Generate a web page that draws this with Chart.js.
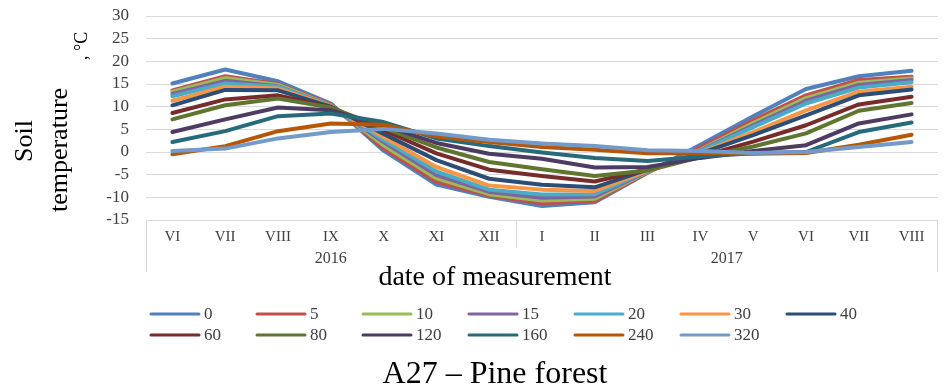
<!DOCTYPE html>
<html>
<head>
<meta charset="utf-8">
<script src="https://cdn.jsdelivr.net/npm/chart.js@4.4.0/dist/chart.umd.min.js"></script>
<style>
  html, body { margin: 0; padding: 0; background: #fff; }
  #wrap { width: 950px; height: 389px; }
</style>
</head>
<body>
<div id="wrap"><canvas id="myChart"></canvas></div>
<script>
// months of measurement, grouped by year
const months = ['VI', 'VII', 'VIII', 'IX', 'X', 'XI', 'XII', 'I', 'II', 'III', 'IV', 'V', 'VI', 'VII', 'VIII']
const years = ['2016', '2017']
const yearMonths = [7, 8]

// depth (cm) of each series
const depths = ['0', '5', '10', '15', '20', '30', '40', '60', '80', '120', '160', '240', '320']
const colors = ['#4F81BD', '#C0504D', '#9BBB59', '#8064A2', '#4BACC6', '#F79646', '#2C4D75',
                '#772C2A', '#5F7530', '#4D3B62', '#276A7C', '#B65708', '#729ACA']

// soil temperature, °C
const d0   = [15.1, 18.2, 15.6, 10.7, 0.3, -7.2, -9.9, -11.9, -11.1, -4.6, 1.6, 7.9, 13.9, 16.7, 17.9]
const d5   = [13.6, 16.7, 15.0, 10.5, 0.8, -6.6, -9.6, -11.3, -10.8, -4.5, 1.0, 7.0, 12.5, 15.9, 16.6]
const d10  = [13.3, 16.3, 14.8, 10.3, 1.5, -5.8, -9.3, -10.7, -10.3, -4.4, 0.5, 6.4, 11.9, 15.3, 16.2]
const d15  = [12.8, 15.7, 14.5, 10.2, 2.2, -5.1, -8.8, -10.1, -9.8, -4.3, 0.3, 5.9, 11.3, 14.8, 15.9]
const d20  = [12.3, 15.1, 14.4, 10.1, 2.7, -4.3, -8.3, -9.4, -9.3, -4.2, 0.2, 5.5, 10.7, 14.2, 15.4]
const d30  = [11.3, 14.4, 14.0, 10.1, 3.3, -3.3, -7.4, -8.3, -8.6, -4.1, -0.2, 4.4, 9.2, 13.3, 14.4]
const d40  = [10.3, 13.7, 13.6, 10.0, 4.0, -1.8, -5.9, -7.2, -7.8, -3.9, -0.3, 3.7, 8.1, 12.5, 13.8]
const d60  = [8.6, 11.6, 12.5, 9.9, 4.8, -0.3, -3.9, -5.3, -6.5, -3.8, -1.0, 2.3, 5.9, 10.5, 12.2]
const d80  = [7.2, 10.3, 11.8, 9.8, 5.3, 1.0, -2.2, -3.8, -5.3, -4.1, -1.1, 1.2, 4.1, 9.1, 10.8]
const d120 = [4.4, 7.2, 9.8, 9.2, 5.8, 2.0, -0.4, -1.5, -3.4, -3.3, -1.3, 0.2, 1.5, 6.3, 8.3]
const d160 = [2.2, 4.6, 7.9, 8.5, 6.6, 3.0, 1.3, -0.1, -1.3, -2.0, -1.0, -0.3, 0.0, 4.4, 6.5]
const d240 = [-0.5, 1.3, 4.6, 6.3, 6.0, 3.4, 2.2, 1.1, 0.5, -0.3, -0.2, -0.4, -0.2, 1.6, 3.8]
const d320 = [0.2, 0.75, 3.0, 4.4, 5.1, 4.1, 2.7, 1.9, 1.3, 0.4, 0.2, -0.2, 0.0, 1.1, 2.2]
const series = [d0, d5, d10, d15, d20, d30, d40, d60, d80, d120, d160, d240, d320]

const yTicks = [-15, -10, -5, 0, 5, 10, 15, 20, 25, 30]

const serif = "'Liberation Serif', 'Times New Roman', serif"
Chart.defaults.font.family = serif

const datasets = series.map((data, i) => ({
  label: depths[i],
  data: data,
  borderColor: colors[i],
  backgroundColor: colors[i],
  borderWidth: 4,
  pointRadius: 0,
  tension: 0,
  borderJoinStyle: 'round',
  borderCapStyle: 'round',
  order: series.length - i
}))

// year groups under the months, y-axis title and the legend grid
const extras = {
  id: 'extras',
  afterDraw(chart) {
    const ctx = chart.ctx
    const x = chart.scales.x
    const area = chart.chartArea
    ctx.save()

    ctx.strokeStyle = '#D9D9D9'
    ctx.lineWidth = 1
    ctx.beginPath()
    ctx.moveTo(area.left + 0.5, area.bottom)
    ctx.lineTo(area.left + 0.5, 272)
    ctx.stroke()

    ctx.fillStyle = '#404040'
    ctx.font = '16px ' + serif
    ctx.textAlign = 'center'
    ctx.textBaseline = 'middle'
    let start = 0
    years.forEach((yr, k) => {
      const end = start + yearMonths[k] - 1
      const cx = (x.getPixelForValue(start) + x.getPixelForValue(end)) / 2
      ctx.fillText(yr, cx, 259)
      let edge, bottom
      if (k === years.length - 1) {
        edge = area.right - 0.5
        bottom = 272
      } else {
        edge = Math.round((x.getPixelForValue(end) + x.getPixelForValue(end + 1)) / 2) + 0.5
        bottom = 248
      }
      ctx.beginPath()
      ctx.moveTo(edge, area.bottom)
      ctx.lineTo(edge, bottom)
      ctx.stroke()
      start = end + 1
    })

    // y axis title
    ctx.fillStyle = '#000'
    ctx.font = '26px ' + serif
    ctx.save()
    ctx.translate(25, 141)
    ctx.rotate(-Math.PI / 2)
    ctx.fillText('Soil', 0, 0)
    ctx.restore()
    ctx.save()
    ctx.translate(60, 150)
    ctx.rotate(-Math.PI / 2)
    ctx.fillText('temperature', 0, 0)
    ctx.restore()
    ctx.save()
    ctx.translate(87, 60)
    ctx.rotate(-Math.PI / 2)
    ctx.font = '18px ' + serif
    ctx.textAlign = 'left'
    ctx.textBaseline = 'alphabetic'
    ctx.fillText(', °C', 0, 0)
    ctx.restore()

    // legend, 7 columns
    ctx.font = '17px ' + serif
    ctx.textAlign = 'left'
    ctx.textBaseline = 'middle'
    ctx.lineCap = 'round'
    chart.data.datasets.forEach((ds, i) => {
      const col = i % 7
      const row = Math.floor(i / 7)
      const lx = 151 + col * 106
      const ly = 314 + row * 21
      ctx.strokeStyle = ds.borderColor
      ctx.lineWidth = 3
      ctx.beginPath()
      ctx.moveTo(lx, ly)
      ctx.lineTo(lx + 48, ly)
      ctx.stroke()
      ctx.fillStyle = '#404040'
      ctx.fillText(ds.label, lx + 53, ly + 1)
    })
    ctx.restore()
  }
}

const chart = document.getElementById('myChart')
new Chart(chart, {
  type: 'line',
  data: {
    labels: months,
    datasets: datasets
  },
  options: {
    responsive: true,
    maintainAspectRatio: false,
    animation: false,
    layout: {
      padding: { top: 16, right: 12, bottom: 0, left: 52 }
    },
    plugins: {
      legend: { display: false },
      tooltip: { enabled: false },
      subtitle: {
        display: true,
        position: 'bottom',
        text: 'date of measurement',
        color: '#000',
        font: { size: 28, weight: 'normal', lineHeight: 1.2 },
        padding: { top: 1, bottom: 0 }
      },
      title: {
        display: true,
        position: 'bottom',
        text: 'A27 \u2013 Pine forest',
        color: '#000',
        font: { size: 32, weight: 'normal', lineHeight: 0.9 },
        padding: { top: 65.6, bottom: 0 }
      }
    },
    scales: {
      x: {
        offset: true,
        grid: { display: false, drawTicks: false },
        border: { display: false },
        ticks: {
          color: '#404040',
          font: { size: 15 },
          padding: 8,
          maxRotation: 0,
          autoSkip: false
        },
        afterFit: (scale) => { scale.height = 40 }
      },
      y: {
        min: -15,
        max: 30,
        afterBuildTicks: (scale) => { scale.ticks = yTicks.map(v => ({ value: v })) },
        grid: { color: '#D9D9D9', lineWidth: 1, drawTicks: true, tickLength: 17, tickColor: 'rgba(0,0,0,0)' },
        border: { display: false },
        ticks: {
          color: '#404040',
          font: { size: 17 },
          padding: 0,
          autoSkip: false
        },
        afterFit: (scale) => { scale.width = 94 }
      }
    }
  },
  plugins: [extras]
})
</script>
</body>
</html>
